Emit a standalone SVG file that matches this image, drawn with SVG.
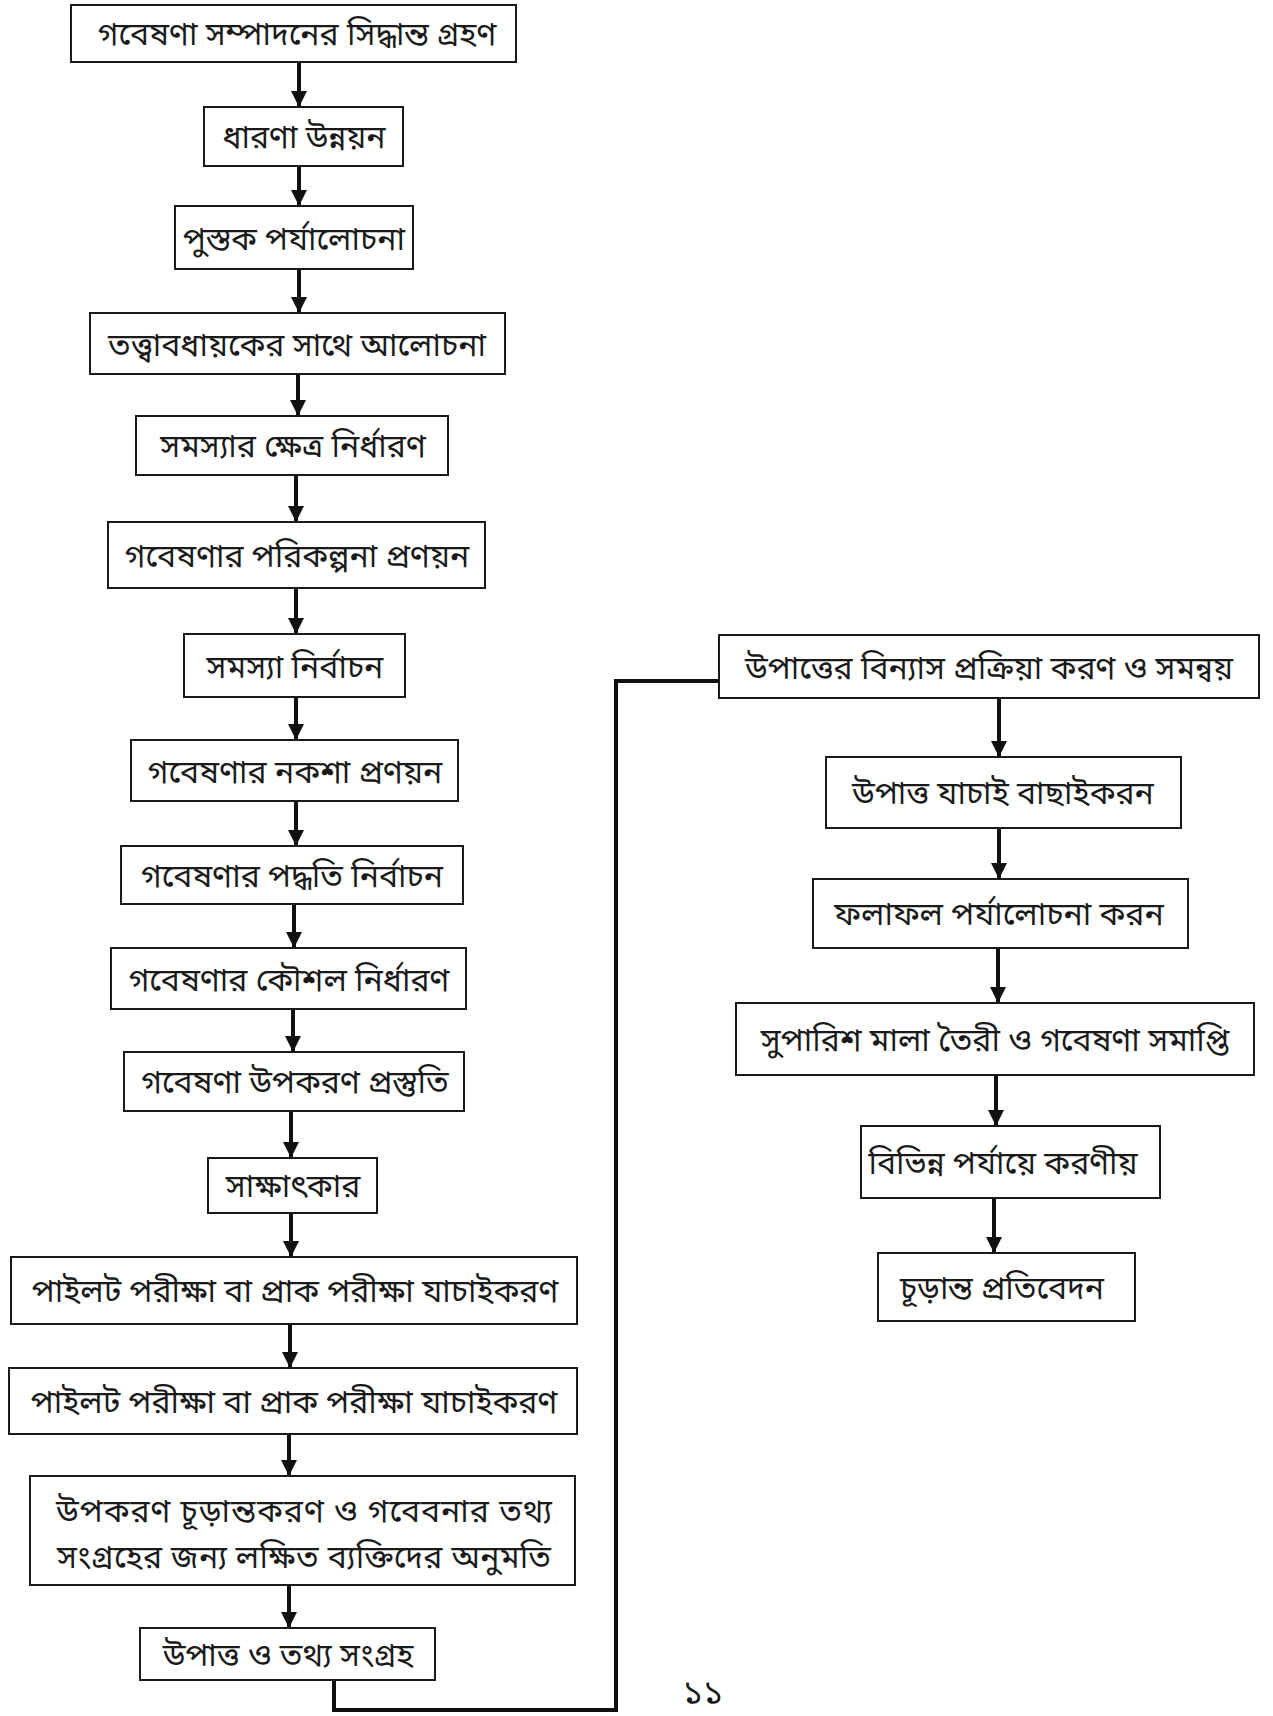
<svg xmlns="http://www.w3.org/2000/svg" width="1273" height="1716" viewBox="0 0 1273 1716">
<defs>
<style>
.b{fill:#fff;stroke:#1a1a1a;stroke-width:2}
.t{font-family:"Noto Sans Bengali","Noto Sans","Lohit Bengali","FreeSans",sans-serif;font-size:32px;fill:#1a1a1a;text-anchor:middle}
.c{fill:none;stroke:#111;stroke-width:4}
</style>
<marker id="ah" viewBox="0 0 10 10" refX="10" refY="5" markerWidth="4" markerHeight="4" markerUnits="strokeWidth" orient="auto">
<path d="M0,0 L10,5 L0,10 z" fill="#111"/>
</marker>
</defs>
<rect width="1273" height="1716" fill="#fff"/>
<g id="connectors">
<line class="c" x1="299" y1="62" x2="299" y2="107" marker-end="url(#ah)"/>
<line class="c" x1="299" y1="166" x2="299" y2="206" marker-end="url(#ah)"/>
<line class="c" x1="299" y1="269" x2="299" y2="313" marker-end="url(#ah)"/>
<line class="c" x1="298" y1="374" x2="298" y2="416" marker-end="url(#ah)"/>
<line class="c" x1="296" y1="475" x2="296" y2="522" marker-end="url(#ah)"/>
<line class="c" x1="296" y1="588" x2="296" y2="634" marker-end="url(#ah)"/>
<line class="c" x1="296" y1="697" x2="296" y2="740" marker-end="url(#ah)"/>
<line class="c" x1="296" y1="801" x2="296" y2="846" marker-end="url(#ah)"/>
<line class="c" x1="294" y1="904" x2="294" y2="948" marker-end="url(#ah)"/>
<line class="c" x1="293" y1="1009" x2="293" y2="1052" marker-end="url(#ah)"/>
<line class="c" x1="291" y1="1111" x2="291" y2="1158" marker-end="url(#ah)"/>
<line class="c" x1="291" y1="1213" x2="291" y2="1257" marker-end="url(#ah)"/>
<line class="c" x1="290" y1="1324" x2="290" y2="1368" marker-end="url(#ah)"/>
<line class="c" x1="289" y1="1434" x2="289" y2="1476" marker-end="url(#ah)"/>
<line class="c" x1="289" y1="1585" x2="289" y2="1628" marker-end="url(#ah)"/>
<polyline class="c" points="334,1680 334,1710 616,1710 616,681 719,681"/>
<line class="c" x1="999" y1="698" x2="999" y2="757" marker-end="url(#ah)"/>
<line class="c" x1="999" y1="828" x2="999" y2="879" marker-end="url(#ah)"/>
<line class="c" x1="998" y1="948" x2="998" y2="1003" marker-end="url(#ah)"/>
<line class="c" x1="996" y1="1075" x2="996" y2="1126" marker-end="url(#ah)"/>
<line class="c" x1="994" y1="1198" x2="994" y2="1253" marker-end="url(#ah)"/>
</g>
<g id="n1"><rect class="b" x="71" y="5" width="445" height="57"/><text class="t" x="297" y="45">গবেষণা সম্পাদনের সিদ্ধান্ত গ্রহণ</text></g>
<g id="n2"><rect class="b" x="204" y="107" width="199" height="59"/><text class="t" x="304" y="148">ধারণা উন্নয়ন</text></g>
<g id="n3"><rect class="b" x="175" y="206" width="238" height="63"/><text class="t" x="294" y="250">পুস্তক পর্যালোচনা</text></g>
<g id="n4"><rect class="b" x="90" y="313" width="415" height="61"/><text class="t" x="297" y="356">তত্ত্বাবধায়কের সাথে আলোচনা</text></g>
<g id="n5"><rect class="b" x="136" y="416" width="312" height="59"/><text class="t" x="293" y="457">সমস্যার ক্ষেত্র নির্ধারণ</text></g>
<g id="n6"><rect class="b" x="108" y="522" width="377" height="66"/><text class="t" x="297" y="567">গবেষণার পরিকল্পনা প্রণয়ন</text></g>
<g id="n7"><rect class="b" x="184" y="634" width="221" height="63"/><text class="t" x="295" y="678">সমস্যা নির্বাচন</text></g>
<g id="n8"><rect class="b" x="131" y="740" width="327" height="61"/><text class="t" x="295" y="783">গবেষণার নকশা প্রণয়ন</text></g>
<g id="n9"><rect class="b" x="121" y="846" width="342" height="58"/><text class="t" x="292" y="887">গবেষণার পদ্ধতি নির্বাচন</text></g>
<g id="n10"><rect class="b" x="111" y="948" width="355" height="61"/><text class="t" x="289" y="991">গবেষণার কৌশল নির্ধারণ</text></g>
<g id="n11"><rect class="b" x="124" y="1052" width="340" height="59"/><text class="t" x="295" y="1093">গবেষণা উপকরণ প্রস্তুতি</text></g>
<g id="n12"><rect class="b" x="208" y="1158" width="169" height="55"/><text class="t" x="293" y="1197">সাক্ষাৎকার</text></g>
<g id="n13"><rect class="b" x="11" y="1257" width="566" height="67"/><text class="t" x="295" y="1302">পাইলট পরীক্ষা বা প্রাক পরীক্ষা যাচাইকরণ</text></g>
<g id="n14"><rect class="b" x="9" y="1368" width="568" height="66"/><text class="t" x="294" y="1413">পাইলট পরীক্ষা বা প্রাক পরীক্ষা যাচাইকরণ</text></g>
<g id="n15"><rect class="b" x="30" y="1476" width="545" height="109"/><text class="t" x="304" y="1522" textLength="496" lengthAdjust="spacing">উপকরণ চূড়ান্তকরণ ও গবেবনার তথ্য</text><text class="t" x="304" y="1568" textLength="494" lengthAdjust="spacing">সংগ্রহের জন্য লক্ষিত ব্যক্তিদের অনুমতি</text></g>
<g id="n16"><rect class="b" x="140" y="1628" width="295" height="52"/><text class="t" x="288" y="1666">উপাত্ত ও তথ্য সংগ্রহ</text></g>
<g id="r1"><rect class="b" x="719" y="635" width="540" height="63"/><text class="t" x="989" y="679">উপাত্তের বিন্যাস প্রক্রিয়া করণ ও সমন্বয়</text></g>
<g id="r2"><rect class="b" x="826" y="757" width="355" height="71"/><text class="t" x="1003" y="804">উপাত্ত যাচাই বাছাইকরন</text></g>
<g id="r3"><rect class="b" x="813" y="879" width="375" height="69"/><text class="t" x="999" y="925">ফলাফল পর্যালোচনা করন</text></g>
<g id="r4"><rect class="b" x="736" y="1003" width="518" height="72"/><text class="t" x="995" y="1051">সুপারিশ মালা তৈরী ও গবেষণা সমাপ্তি</text></g>
<g id="r5"><rect class="b" x="861" y="1126" width="299" height="72"/><text class="t" x="1003" y="1174">বিভিন্ন পর্যায়ে করণীয়</text></g>
<g id="r6"><rect class="b" x="878" y="1253" width="257" height="68"/><text class="t" x="1002" y="1299">চূড়ান্ত প্রতিবেদন</text></g>
<text class="t" x="703" y="1704" style="font-size:34px">১১</text>
</svg>
